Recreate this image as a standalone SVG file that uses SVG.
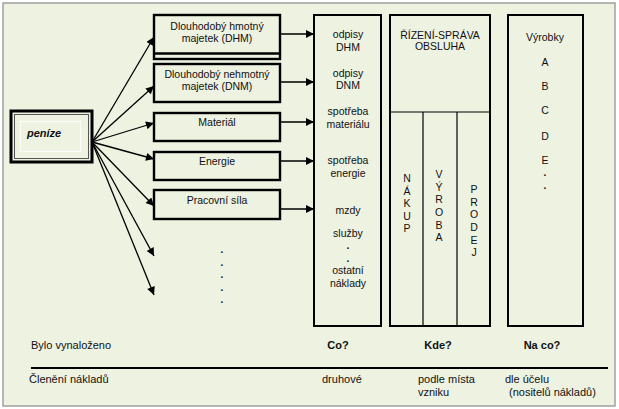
<svg xmlns="http://www.w3.org/2000/svg" width="619" height="409" viewBox="0 0 619 409">
<style>
  text { font-family: "Liberation Sans", Arial, sans-serif; font-size: 10.5px; fill: #111; }
  .c { text-anchor: middle; }
  .b { font-weight: bold; }
  .d { font-weight: bold; font-size: 10px; }
  .lbl { font-size: 11px; }
  .box { fill: none; stroke: #000; stroke-width: 2.4; }
  .col { fill: none; stroke: #000; stroke-width: 2; }
  .thin { stroke: #000; stroke-width: 1.2; fill: none; }
  .con { stroke: #000; stroke-width: 1.3; fill: none; marker-end: url(#ah); }
</style>
<defs>
  <marker id="ah" viewBox="0 0 10 10" refX="10" refY="5" markerUnits="userSpaceOnUse" markerWidth="9" markerHeight="8" orient="auto">
    <path d="M0,0 L10,5 L0,10 z" fill="#000"/>
  </marker>
</defs>
<rect x="0" y="0" width="619" height="409" fill="#fff"/>
<rect x="3" y="3" width="612" height="403" fill="#EDF2E1" stroke="#a0a0a0" stroke-width="1.5"/>

<g id="penize">
  <rect x="11" y="111" width="81" height="51" fill="none" stroke="#000" stroke-width="3"/>
  <rect x="14.5" y="114.5" width="74" height="44" fill="none" stroke="#555" stroke-width="1"/>
  <rect x="20.5" y="121.5" width="60" height="30" fill="none" stroke="#fbfcf6" stroke-width="1.2"/>
  <text x="27" y="137" class="b" style="font-style:italic;font-size:11px">peníze</text>
</g>

<g id="dhm">
  <rect x="154" y="15" width="126" height="44" class="box" stroke-width="2"/>
  <line x1="154" y1="53.5" x2="280" y2="53.5" stroke="#000" stroke-width="2.4"/>
  <text x="217" y="30" class="c">Dlouhodobý hmotný</text>
  <text x="217" y="42" class="c">majetek (DHM)</text>
</g>
<g id="dnm">
  <rect x="154" y="64" width="126" height="38" class="box"/>
  <text x="217" y="78" class="c">Dlouhodobý nehmotný</text>
  <text x="217" y="90" class="c">majetek (DNM)</text>
</g>
<g id="material">
  <rect x="154" y="113" width="126" height="28" class="box"/>
  <text x="217" y="126" class="c">Materiál</text>
</g>
<g id="energie">
  <rect x="154" y="152" width="126" height="28" class="box"/>
  <text x="217" y="165" class="c">Energie</text>
</g>
<g id="pracovni">
  <rect x="154" y="190" width="126" height="29" class="box"/>
  <text x="217" y="204" class="c">Pracovní síla</text>
</g>
<g id="dots-left">
  <text x="222" y="253" class="c d">.</text>
  <text x="222" y="265.5" class="c d">.</text>
  <text x="222" y="278" class="c d">.</text>
  <text x="222" y="290.5" class="c d">.</text>
  <text x="222" y="303" class="c d">.</text>
</g>

<g id="co">
  <rect x="314" y="15" width="67" height="311" class="col"/>
  <text x="348" y="38" class="c">odpisy</text>
  <text x="348" y="51" class="c">DHM</text>
  <text x="348" y="77" class="c">odpisy</text>
  <text x="348" y="89" class="c">DNM</text>
  <text x="348" y="115" class="c">spotřeba</text>
  <text x="348" y="128" class="c">materiálu</text>
  <text x="348" y="164" class="c">spotřeba</text>
  <text x="348" y="177" class="c">energie</text>
  <text x="348" y="214" class="c">mzdy</text>
  <text x="348" y="237" class="c">služby</text>
  <text x="348" y="249" class="c d">.</text>
  <text x="348" y="262" class="c d">.</text>
  <text x="348" y="274" class="c">ostatní</text>
  <text x="348" y="287" class="c">náklady</text>
</g>

<g id="kde">
  <rect x="390" y="15" width="100" height="311" class="col"/>
  <line x1="390" y1="112" x2="490" y2="112" class="thin"/>
  <line x1="423" y1="112" x2="423" y2="326" class="thin"/>
  <line x1="457" y1="112" x2="457" y2="326" class="thin"/>
  <text x="440" y="39" class="c">ŘÍZENÍ-SPRÁVA</text>
  <text x="440" y="50" class="c">OBSLUHA</text>
  <text x="407" y="182" class="c">N</text>
  <text x="407" y="194.5" class="c">Á</text>
  <text x="407" y="207" class="c">K</text>
  <text x="407" y="219.5" class="c">U</text>
  <text x="407" y="232" class="c">P</text>
  <text x="439" y="178" class="c">V</text>
  <text x="439" y="190.5" class="c">Ý</text>
  <text x="439" y="203" class="c">R</text>
  <text x="439" y="216" class="c">O</text>
  <text x="439" y="228.5" class="c">B</text>
  <text x="439" y="241" class="c">A</text>
  <text x="474" y="193" class="c">P</text>
  <text x="474" y="205.5" class="c">R</text>
  <text x="474" y="218" class="c">O</text>
  <text x="474" y="231" class="c">D</text>
  <text x="474" y="243.5" class="c">E</text>
  <text x="474" y="256" class="c">J</text>
</g>

<g id="naco">
  <rect x="508" y="15" width="75" height="311" class="col"/>
  <text x="545" y="41" class="c">Výrobky</text>
  <text x="545" y="66" class="c">A</text>
  <text x="545" y="90" class="c">B</text>
  <text x="545" y="114" class="c">C</text>
  <text x="545" y="140" class="c">D</text>
  <text x="545" y="164" class="c">E</text>
  <text x="545" y="176" class="c d">.</text>
  <text x="545" y="189" class="c d">.</text>
</g>

<g id="connectors">
  <line x1="92" y1="142" x2="154" y2="37" class="con"/>
  <line x1="92" y1="142" x2="154" y2="86" class="con"/>
  <line x1="92" y1="142" x2="154" y2="123" class="con"/>
  <line x1="92" y1="142" x2="154" y2="159" class="con"/>
  <line x1="92" y1="142" x2="154" y2="206" class="con"/>
  <line x1="92" y1="142" x2="154" y2="256" class="con"/>
  <line x1="92" y1="142" x2="154" y2="295" class="con"/>
  <line x1="281" y1="34" x2="314" y2="34" class="con"/>
  <line x1="281" y1="82" x2="314" y2="82" class="con"/>
  <line x1="281" y1="122" x2="314" y2="122" class="con"/>
  <line x1="281" y1="161" x2="314" y2="161" class="con"/>
  <line x1="281" y1="209" x2="314" y2="209" class="con"/>
</g>

<g id="labels">
  <text x="31" y="349" class="lbl">Bylo vynaloženo</text>
  <text x="338" y="349" class="lbl b c">Co?</text>
  <text x="438" y="349" class="lbl b c">Kde?</text>
  <text x="542" y="349" class="lbl b c">Na co?</text>
  <line x1="31" y1="368" x2="608" y2="368" stroke="#000" stroke-width="2"/>
  <text x="29" y="383" class="lbl">Členění nákladů</text>
  <text x="322" y="383" class="lbl">druhové</text>
  <text x="418" y="383" class="lbl">podle místa</text>
  <text x="418" y="396" class="lbl">vzniku</text>
  <text x="505" y="383" class="lbl">dle účelu</text>
  <text x="509" y="396" class="lbl">(nositelů nákladů)</text>
</g>
</svg>
